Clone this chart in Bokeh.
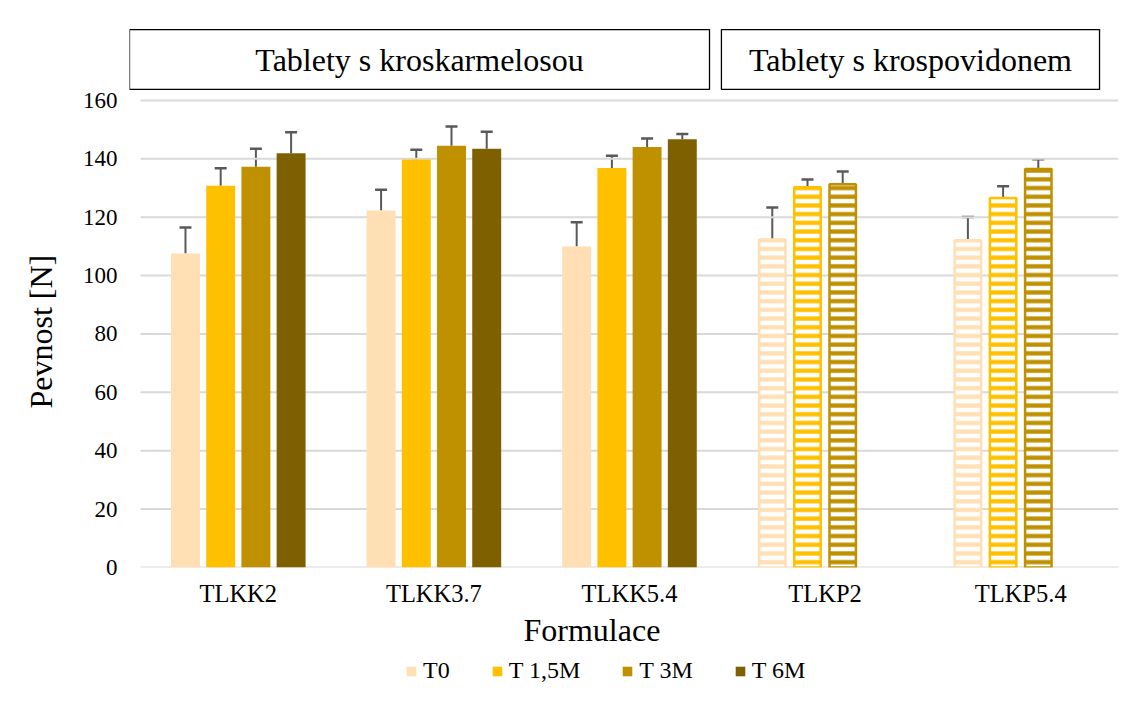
import numpy as np
from bokeh.plotting import figure
from bokeh.layouts import column
from bokeh.models import (ColumnDataSource, Range1d, FixedTicker, Whisker, TeeHead,
                          Legend, LegendItem, Title)
from bokeh.embed import file_html
from bokeh.resources import INLINE
from bokeh.core.properties import value

# ---------------- data ----------------
categories = ["TLKK2", "TLKK3.7", "TLKK5.4", "TLKP2", "TLKP5.4"]
hatched_categories = ["TLKP2", "TLKP5.4"]
series_names = ["T0", "T 1,5M", "T 3M", "T 6M"]
t0 = [107.6, 122.3, 110.0, 112.4, 112.1]
t0_err = [8.9, 7.1, 8.3, 10.9, 8.0]
t15 = [130.8, 139.8, 136.9, 130.3, 126.6]
t15_err = [6.0, 3.3, 4.2, 2.6, 4.0]
t3 = [137.3, 144.5, 144.1, 131.3, 136.5]
t3_err = [6.2, 6.6, 2.9, 4.4, 3.4]
t6 = [141.9, 143.5, 146.7, None, None]
t6_err = [7.2, 5.8, 1.8, None, None]
y_ticks = [0, 20, 40, 60, 80, 100, 120, 140, 160]
group_titles = ["Tablety s kroskarmelosou", "Tablety s krospovidonem"]
x_title = "Formulace"
y_title = "Pevnost [N]"

series_values = [t0, t15, t3, t6]
series_errs = [t0_err, t15_err, t3_err, t6_err]
colors = ["#FFDFB3", "#FFC000", "#BF9000", "#7F6000"]
offsets = [-0.27, -0.09, 0.09, 0.27]
FONT = "Liberation Serif"
ERR = "#595959"

p = figure(width=1134, height=652,
           x_range=Range1d(0.4438, 5.5), y_range=Range1d(0, 187.4),
           output_backend="svg", toolbar_location=None,
           min_border_left=129, min_border_right=16,
           min_border_top=20, min_border_bottom=85)
p.outline_line_color = None
p.grid.visible = False
p.background_fill_color = "white"

# gridlines across category span
p.segment(x0=[0.5] * len(y_ticks), x1=[len(categories) + 0.5] * len(y_ticks),
          y0=y_ticks, y1=y_ticks, line_color="#d9d9d9", line_width=2)

bw = 0.148
for k, (name, vals, errs, col, off) in enumerate(zip(series_names, series_values,
                                                    series_errs, colors, offsets)):
    solid = dict(x=[], top=[], hi=[])
    hatch = dict(x=[], top=[], hi=[])
    for i, c in enumerate(categories):
        if vals[i] is None:
            continue
        d = hatch if c in hatched_categories else solid
        d["x"].append(i + 1 + off)
        d["top"].append(vals[i])
        d["hi"].append(vals[i] + errs[i])
    s_src = ColumnDataSource(solid)
    h_src = ColumnDataSource(hatch)
    p.vbar(x="x", top="top", bottom=0, width=bw, source=s_src,
           fill_color=col, line_color=None)
    if len(hatch["x"]):
        p.vbar(x="x", top="top", bottom=0, width=bw - 2.5 / 195.6, source=h_src,
               fill_color="white", line_color=col, line_width=2.5,
               hatch_pattern="horizontal_line", hatch_color=col,
               hatch_scale=8.7, hatch_weight=4.3)
    for src in (s_src, h_src):
        if len(src.data["x"]):
            w = Whisker(base="x", lower="top", upper="hi", source=src,
                        dimension="height", line_color=ERR, line_width=2,
                        lower_head=None,
                        upper_head=TeeHead(size=12, line_color=ERR, line_width=2.5))
            p.add_layout(w)

# axes
p.yaxis.ticker = FixedTicker(ticks=y_ticks)
p.yaxis.axis_line_color = None
p.yaxis.major_tick_line_color = None
p.yaxis.minor_tick_line_color = None
p.yaxis.major_label_text_font = FONT
p.yaxis.major_label_text_font_size = "23px"
p.yaxis.major_label_text_color = "black"
p.yaxis.major_label_standoff = 6

p.xaxis.ticker = FixedTicker(ticks=list(range(1, len(categories) + 1)))
p.xaxis.major_label_overrides = {i + 1: c for i, c in enumerate(categories)}
p.xaxis.axis_line_color = None
p.xaxis.major_tick_line_color = None
p.xaxis.minor_tick_line_color = None
p.xaxis.major_label_text_font = FONT
p.xaxis.major_label_text_font_size = "24.5px"
p.xaxis.major_label_text_color = "black"
p.xaxis.major_label_standoff = 6

# axis titles (side-panel titles)
p.add_layout(Title(text=y_title, align="left", offset=159, standoff=41,
                   text_font=FONT, text_font_size="32px", text_font_style="normal",
                   text_color="black"), "left")
p.add_layout(Title(text=x_title, align="left", offset=394, standoff=0,
                   text_font=FONT, text_font_size="32px", text_font_style="normal",
                   text_color="black"), "below")

# header boxes
p.quad(left=[0.4438, 3.470], right=[3.409, 5.403], bottom=[163.8, 163.8], top=[184.3, 184.3],
       fill_color="white", line_color="black", line_width=1.3)
p.text(x=[(0.4438 + 3.409) / 2, (3.470 + 5.403) / 2], y=[174.0, 174.0], text=group_titles,
       text_align="center", text_baseline="middle",
       text_font=value(FONT), text_font_size="32px", text_color="black")

# legend strip (separate small figure below the chart)
lg = figure(width=1134, height=48, x_range=Range1d(0, 1), y_range=Range1d(0, 1),
            x_axis_type=None, y_axis_type=None, output_backend="svg",
            toolbar_location=None, min_border=0)
lg.outline_line_color = None
lg.grid.visible = False
legend_items = []
for name, col in zip(series_names, colors):
    # zero-height proxy bar, only used as the legend swatch
    r = lg.vbar(x=[0.5], top=[0], bottom=0, width=0.01, fill_color=col, line_color=None)
    legend_items.append(LegendItem(label=name, renderers=[r]))
legend = Legend(items=legend_items, orientation="horizontal", location=(276, 16),
                label_text_font=FONT, label_text_font_size="24px", label_text_color="black",
                glyph_width=12, glyph_height=12, spacing=41, label_standoff=6,
                border_line_color=None, background_fill_alpha=0, padding=0, margin=0)
lg.add_layout(legend)

open("out.html", "w").write(file_html(column(p, lg, spacing=0), INLINE))
